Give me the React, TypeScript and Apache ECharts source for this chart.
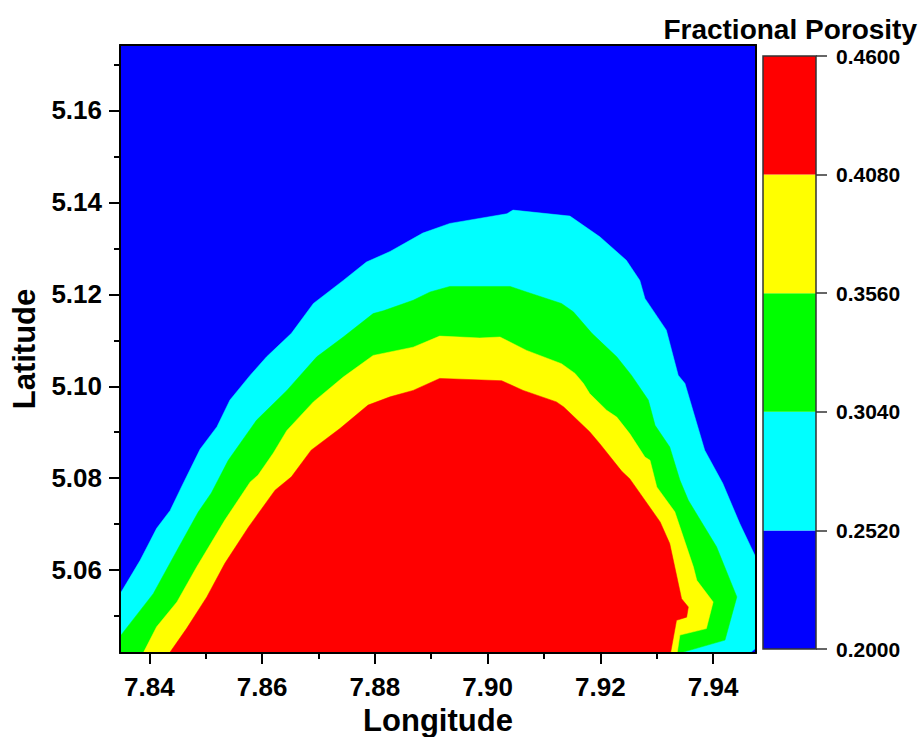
import React, { useEffect, useRef } from 'react';
import * as echarts from 'echarts';

// Map extent (degrees)
const X_MIN = 7.8348;
const X_MAX = 7.9476;
const Y_MIN = 5.042;
const Y_MAX = 5.1742;

const xMajorTicks = [7.84, 7.86, 7.88, 7.9, 7.92, 7.94];
const xMinorTicks = [7.85, 7.87, 7.89, 7.91, 7.93];
const yMajorTicks = [5.06, 5.08, 5.1, 5.12, 5.14, 5.16];
const yMinorTicks = [5.05, 5.07, 5.09, 5.11, 5.13, 5.15, 5.17];

const porosityLevels = [0.2, 0.252, 0.304, 0.356, 0.408, 0.46];
const levelColors = ['#0000ff', '#00ffff', '#00ff00', '#ffff00', '#ff0000'];

// Filled contour outlines, [longitude, latitude]; each encloses all values above its level
const contour0252 = [
  [7.834, 5.041], [7.8346, 5.0544], [7.8384, 5.0622], [7.8413, 5.0691], [7.8437, 5.073],
  [7.8457, 5.0781], [7.849, 5.0863], [7.852, 5.0912], [7.8543, 5.097], [7.8579, 5.1024],
  [7.8608, 5.1064], [7.8652, 5.1115], [7.8691, 5.118], [7.8744, 5.123], [7.8785, 5.127],
  [7.8827, 5.1293], [7.8885, 5.1333], [7.8933, 5.1354], [7.9034, 5.1375], [7.9045, 5.1383],
  [7.9146, 5.137], [7.9199, 5.1325], [7.9246, 5.1274], [7.927, 5.123], [7.9279, 5.1191],
  [7.9317, 5.1122], [7.9338, 5.1024], [7.935, 5.1006], [7.9385, 5.0861], [7.9417, 5.0789],
  [7.9447, 5.0702], [7.9478, 5.0622], [7.9478, 5.0433], [7.9456, 5.041],
];
const contour0304 = [
  [7.834, 5.041], [7.8346, 5.0453], [7.8407, 5.0549], [7.8449, 5.0643], [7.8487, 5.0727],
  [7.851, 5.0768], [7.854, 5.0839], [7.859, 5.0926], [7.8644, 5.0991], [7.8697, 5.1064],
  [7.8744, 5.1107], [7.8797, 5.1158], [7.8815, 5.1164], [7.8868, 5.1187], [7.8898, 5.1205],
  [7.8933, 5.1217], [7.904, 5.1217], [7.9069, 5.1205], [7.9131, 5.118], [7.9152, 5.1162],
  [7.9185, 5.1115], [7.9229, 5.1064], [7.9255, 5.1024], [7.9285, 5.097], [7.9297, 5.0915],
  [7.9323, 5.0868], [7.9341, 5.0796], [7.9356, 5.0752], [7.9406, 5.0651], [7.9442, 5.0542],
  [7.9421, 5.0448], [7.9347, 5.0422], [7.9347, 5.041],
];
const contour0356 = [
  [7.8385, 5.041], [7.8413, 5.0477], [7.8449, 5.0531], [7.8484, 5.0607], [7.8534, 5.0709],
  [7.8579, 5.0792], [7.8593, 5.0807], [7.862, 5.0855], [7.8644, 5.0904], [7.8691, 5.0966],
  [7.8744, 5.102], [7.8797, 5.1067], [7.8868, 5.1085], [7.8915, 5.1109], [7.8986, 5.1105],
  [7.9022, 5.1107], [7.9069, 5.1078], [7.9131, 5.1049], [7.9155, 5.1028], [7.917, 5.1006],
  [7.9181, 5.0984], [7.9211, 5.0948], [7.9229, 5.0933], [7.9252, 5.0897], [7.9279, 5.0846],
  [7.9288, 5.0839], [7.93, 5.0781], [7.9332, 5.0727], [7.9365, 5.0607], [7.9371, 5.0578],
  [7.94, 5.0531], [7.9388, 5.0473], [7.9341, 5.0459], [7.9335, 5.041],
];
const contour0408 = [
  [7.843, 5.041], [7.8466, 5.0473], [7.8502, 5.0542], [7.8534, 5.0615], [7.8576, 5.0694],
  [7.8623, 5.0774], [7.8652, 5.0803], [7.8687, 5.0861], [7.8738, 5.0908], [7.8788, 5.0959],
  [7.8827, 5.0977], [7.8868, 5.0991], [7.8915, 5.1017], [7.9025, 5.1012], [7.9063, 5.0991],
  [7.9122, 5.0966], [7.9135, 5.0955], [7.9181, 5.0901], [7.9199, 5.0875], [7.9238, 5.0815],
  [7.9252, 5.0799], [7.9306, 5.0705], [7.9323, 5.0658], [7.9344, 5.0538], [7.9356, 5.052],
  [7.9353, 5.0498], [7.9335, 5.0491], [7.9323, 5.041],
];

const FONT = "'Liberation Sans', Arial, sans-serif";

const contourSeries = (points: number[][], color: string) => ({
  type: 'custom',
  xAxisIndex: 0,
  yAxisIndex: 0,
  clip: true,
  silent: true,
  data: points,
  renderItem: (params: any, api: any) => {
    if (params.dataIndex !== 0) return null;
    return {
      type: 'polygon',
      shape: { points: points.map((p) => api.coord(p)) },
      style: { fill: color, stroke: color, lineWidth: 0.5 },
    };
  },
});

export default function App() {
  const ref = useRef<HTMLDivElement>(null);

  useEffect(() => {
    if (!ref.current) return;
    const chart = echarts.init(ref.current, undefined, { renderer: 'svg' });

    const labelStyle = { fontFamily: FONT, fontWeight: 'bold' as const, color: '#000' };
    const blackLine = { color: '#000', width: 2 };

    const bands = porosityLevels.slice(0, -1).map((lo, i) => [lo, porosityLevels[i + 1], i]);

    chart.setOption({
      animation: false,
      backgroundColor: '#ffffff',
      title: {
        text: 'Fractional Porosity',
        right: -2,
        top: 10,
        textStyle: { ...labelStyle, fontSize: 28 },
      },
      grid: [
        {
          left: 120, top: 45, width: 636, height: 608, show: true,
          backgroundColor: levelColors[0], borderWidth: 0, outerBoundsMode: 'none', containLabel: false,
        },
        { left: 763, top: 56, width: 53, height: 593, show: false, outerBoundsMode: 'none', containLabel: false },
      ],
      xAxis: [
        {
          gridIndex: 0, type: 'value', min: X_MIN, max: X_MAX, position: 'bottom', z: 10,
          axisLine: { show: true, onZero: false, lineStyle: blackLine },
          axisTick: { show: true, inside: false, length: 11, lineStyle: blackLine, customValues: xMajorTicks },
          axisLabel: { ...labelStyle, fontSize: 26, margin: 21, customValues: xMajorTicks, formatter: (v: number) => v.toFixed(2) },
          splitLine: { show: false },
          name: 'Longitude', nameLocation: 'middle', nameGap: 51,
          nameTextStyle: { ...labelStyle, fontSize: 31 },
        },
        {
          gridIndex: 0, type: 'value', min: X_MIN, max: X_MAX, position: 'bottom', z: 10,
          axisLine: { show: false, onZero: false },
          axisTick: { show: true, inside: false, length: 6, lineStyle: blackLine, customValues: xMinorTicks },
          axisLabel: { show: false },
          splitLine: { show: false },
        },
        {
          gridIndex: 0, type: 'value', min: X_MIN, max: X_MAX, position: 'top', z: 10,
          axisLine: { show: true, onZero: false, lineStyle: blackLine },
          axisTick: { show: false }, axisLabel: { show: false }, splitLine: { show: false },
        },
        { gridIndex: 1, type: 'value', min: 0, max: 1, show: false },
      ],
      yAxis: [
        {
          gridIndex: 0, type: 'value', min: Y_MIN, max: Y_MAX, position: 'left', z: 10,
          axisLine: { show: true, onZero: false, lineStyle: blackLine },
          axisTick: { show: true, inside: false, length: 11, lineStyle: blackLine, customValues: yMajorTicks },
          axisLabel: { ...labelStyle, fontSize: 26, margin: 18, customValues: yMajorTicks, formatter: (v: number) => v.toFixed(2) },
          splitLine: { show: false },
          name: 'Latitude', nameLocation: 'middle', nameGap: 80, nameRotate: 90,
          nameTextStyle: { ...labelStyle, fontSize: 31 },
        },
        {
          gridIndex: 0, type: 'value', min: Y_MIN, max: Y_MAX, position: 'left', z: 10,
          axisLine: { show: false, onZero: false },
          axisTick: { show: true, inside: false, length: 6, lineStyle: blackLine, customValues: yMinorTicks },
          axisLabel: { show: false },
          splitLine: { show: false },
        },
        {
          gridIndex: 0, type: 'value', min: Y_MIN, max: Y_MAX, position: 'right', z: 10,
          axisLine: { show: true, onZero: false, lineStyle: blackLine },
          axisTick: { show: false }, axisLabel: { show: false }, splitLine: { show: false },
        },
        {
          gridIndex: 1, type: 'value', min: porosityLevels[0], max: porosityLevels[porosityLevels.length - 1],
          position: 'right', z: 10,
          axisLine: { show: false, onZero: false },
          axisTick: { show: true, inside: false, length: 11, lineStyle: { color: '#333', width: 1.5 }, customValues: porosityLevels },
          axisLabel: { ...labelStyle, fontSize: 21, margin: 20, customValues: porosityLevels, formatter: (v: number) => v.toFixed(4) },
          splitLine: { show: false },
        },
      ],
      series: [
        contourSeries(contour0252, levelColors[1]),
        contourSeries(contour0304, levelColors[2]),
        contourSeries(contour0356, levelColors[3]),
        contourSeries(contour0408, levelColors[4]),
        {
          type: 'custom',
          xAxisIndex: 3,
          yAxisIndex: 3,
          silent: true,
          data: bands,
          renderItem: (params: any, api: any) => {
            const lo = api.coord([0, api.value(0)]);
            const hi = api.coord([1, api.value(1)]);
            return {
              type: 'rect',
              shape: { x: lo[0], y: hi[1], width: hi[0] - lo[0], height: lo[1] - hi[1] },
              style: { fill: levelColors[api.value(2)] },
            };
          },
        },
        {
          type: 'custom',
          xAxisIndex: 3,
          yAxisIndex: 3,
          silent: true,
          z: 5,
          data: [[porosityLevels[0], porosityLevels[porosityLevels.length - 1]]],
          renderItem: (params: any, api: any) => {
            const lo = api.coord([0, api.value(0)]);
            const hi = api.coord([1, api.value(1)]);
            return {
              type: 'rect',
              shape: { x: lo[0], y: hi[1], width: hi[0] - lo[0], height: lo[1] - hi[1] },
              style: { fill: 'none', stroke: '#333', lineWidth: 1.5 },
            };
          },
        },
      ],
    });

    return () => chart.dispose();
  }, []);

  return (
    <div
      ref={ref}
      style={{ position: 'fixed', left: 0, top: 0, width: 920, height: 737, background: '#fff' }}
    />
  );
}
